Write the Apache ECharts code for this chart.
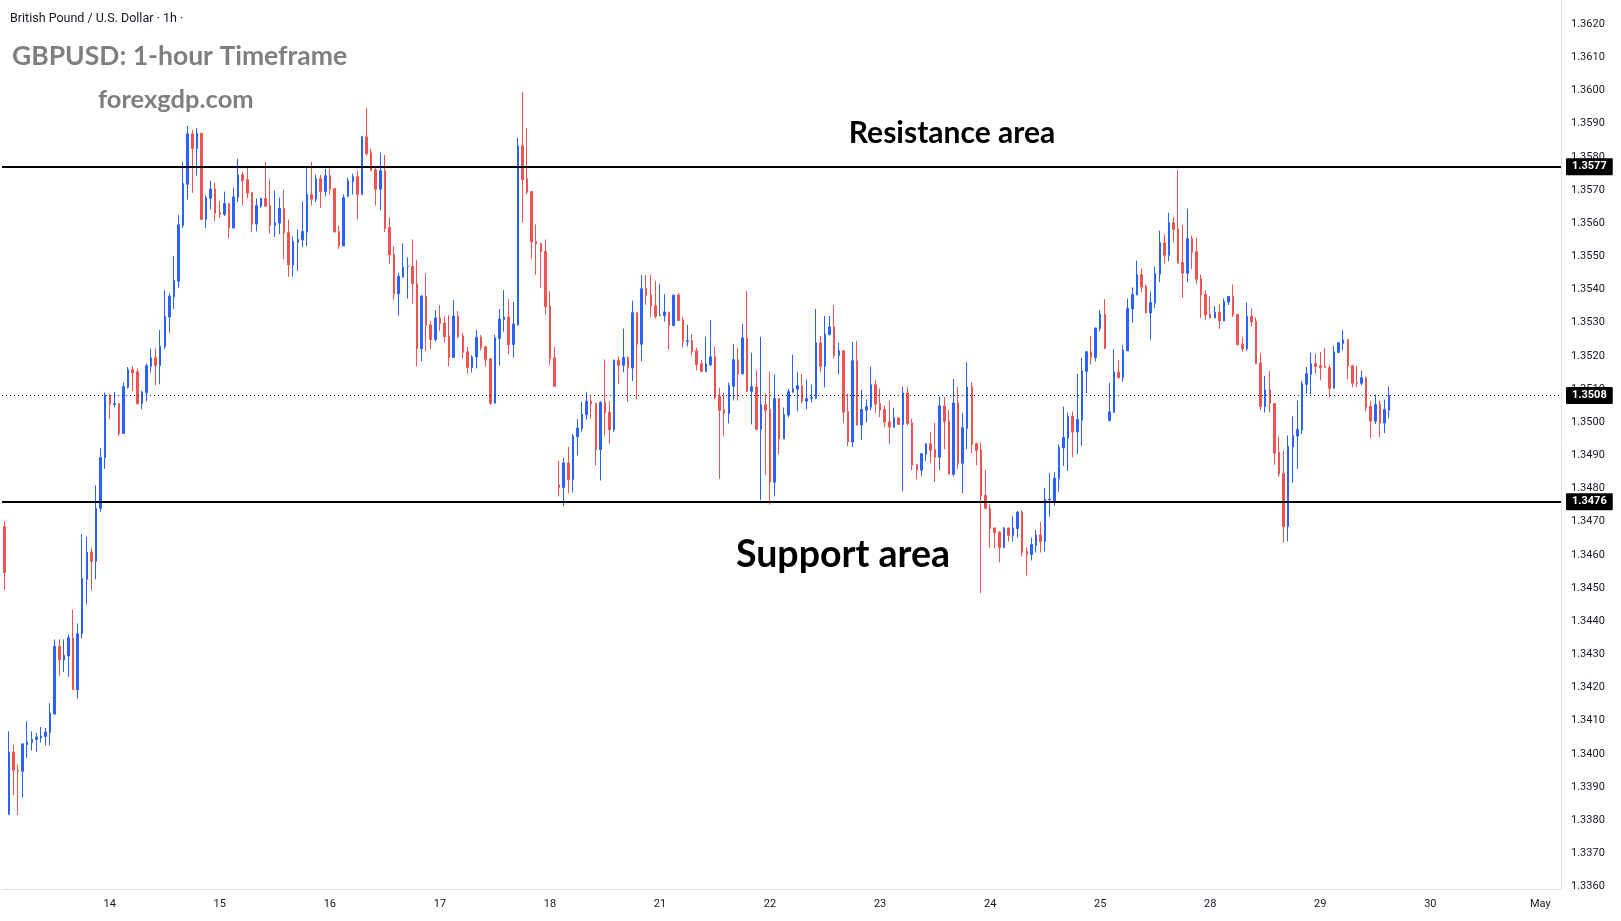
<!DOCTYPE html>
<html>
<head>
<meta charset="utf-8">
<script src="https://cdn.jsdelivr.net/npm/echarts@6/dist/echarts.min.js"></script>
<style>html,body{margin:0;padding:0;background:#fff;}#c{width:1621px;height:921px;}</style>
</head>
<body>
<div id="c"></div>
<script>
// ---- data ----
const firstSessionDay = '13';
const dayLabels = ['14','15','16','17','18','21','22','23','24','25','28','29','30','May'];
const priceTicks = [1.3360,1.3370,1.3380,1.3390,1.3400,1.3410,1.3420,1.3430,1.3440,1.3450,1.3460,1.3470,1.3480,1.3490,1.3500,1.3510,1.3520,1.3530,1.3540,1.3550,1.3560,1.3570,1.3580,1.3590,1.3600,1.3610,1.3620];
const resistanceLevel = 1.3577;
const supportLevel = 1.3476;
const lastPrice = 1.3508;

const opens = [
1.34685,1.33818,1.34005,1.33950,1.33947,1.34028,1.34034,1.34043,1.34048,1.34052,
1.34064,1.34120,1.34324,1.34283,1.34295,1.34350,1.34193,1.34362,1.34526,1.34608,
1.34580,1.34740,1.34893,1.35081,1.35053,1.35056,1.34966,1.35105,1.35158,1.35152,
1.35056,1.35089,1.35168,1.35194,1.35170,1.35227,1.35317,1.35378,1.35425,1.35593,
1.35717,1.35869,1.35825,1.35871,1.35611,1.35675,1.35703,1.35632,1.35626,1.35659,
1.35585,1.35677,1.35746,1.35731,1.35692,1.35597,1.35651,1.35674,1.35653,1.35593,
1.35600,1.35644,1.35572,1.35474,1.35542,1.35549,1.35573,1.35686,1.35672,1.35734,
1.35695,1.35743,1.35704,1.35575,1.35531,1.35680,1.35725,1.35740,1.35686,1.35860,
1.35812,1.35761,1.35702,1.35758,1.35587,1.35506,1.35387,1.35438,1.35469,1.35470,
1.35418,1.35221,1.35380,1.35293,1.35249,1.35314,1.35299,1.35260,1.35195,1.35320,
1.35260,1.35212,1.35165,1.35196,1.35256,1.35227,1.35191,1.35057,1.35252,1.35309,
1.35317,1.35234,1.35293,1.35833,1.35734,1.35695,1.35545,1.35539,1.35515,1.35350,
1.35194,1.34811,1.34803,1.34877,1.34827,1.34956,1.34980,1.35022,1.35063,1.35057,
1.34917,1.35060,1.35030,1.34977,1.35186,1.35171,1.35195,1.35163,1.35330,1.35235,
1.35402,1.35384,1.35351,1.35321,1.35321,1.35332,1.35291,1.35383,1.35308,1.35243,
1.35245,1.35215,1.35176,1.35153,1.35173,1.35197,1.35077,1.35038,1.35026,1.35108,
1.35188,1.35146,1.35254,1.35092,1.35107,1.34978,1.35053,1.35038,1.34819,1.35071,
1.34949,1.35021,1.35090,1.35099,1.35110,1.35063,1.35072,1.35072,1.35239,1.35168,
1.35264,1.35287,1.35201,1.35215,1.35032,1.34940,1.35185,1.34991,1.35036,1.35045,
1.35113,1.35056,1.35038,1.35001,1.34984,1.35013,1.34993,1.35088,1.34998,1.34872,
1.34855,1.34903,1.34935,1.34917,1.34894,1.35049,1.35004,1.34843,1.35058,1.34876,
1.34981,1.35106,1.34935,1.34917,1.34779,1.34740,1.34681,1.34669,1.34622,1.34681,
1.34658,1.34679,1.34729,1.34610,1.34601,1.34628,1.34660,1.34640,1.34766,1.34763,
1.34829,1.34922,1.34952,1.35017,1.34970,1.35006,1.35153,1.35212,1.35195,1.35282,
1.35326,1.35005,1.35029,1.35151,1.35134,1.35215,1.35341,1.35383,1.35445,1.35409,
1.35329,1.35359,1.35446,1.35541,1.35503,1.35601,1.35583,1.35481,1.35449,1.35553,
1.35514,1.35433,1.35385,1.35325,1.35314,1.35331,1.35305,1.35362,1.35379,1.35325,
1.35235,1.35221,1.35319,1.35304,1.35178,1.35047,1.35097,1.35056,1.34909,1.34846,
1.34685,1.34925,1.34958,1.34976,1.35114,1.35144,1.35176,1.35170,1.35167,1.35164,
1.35102,1.35210,1.35237,1.35248,1.35170,1.35119,1.35117,1.35134,1.35047,1.35003,
1.35053,1.34997,1.35036];

const highs = [
1.34702,1.34068,1.34027,1.33967,1.34030,1.34098,1.34068,1.34063,1.34081,1.34078,
1.34153,1.34345,1.34345,1.34345,1.34360,1.34435,1.34393,1.34663,1.34654,1.34622,
1.34810,1.34921,1.35089,1.35085,1.35091,1.35056,1.35119,1.35166,1.35170,1.35161,
1.35095,1.35176,1.35221,1.35221,1.35278,1.35398,1.35389,1.35501,1.35625,1.35785,
1.35893,1.35881,1.35887,1.35871,1.35683,1.35728,1.35722,1.35668,1.35695,1.35659,
1.35707,1.35794,1.35753,1.35773,1.35692,1.35674,1.35677,1.35785,1.35733,1.35698,
1.35677,1.35701,1.35611,1.35560,1.35581,1.35665,1.35770,1.35785,1.35746,1.35746,
1.35764,1.35764,1.35704,1.35593,1.35686,1.35737,1.35749,1.35758,1.35863,1.35947,
1.35824,1.35767,1.35812,1.35806,1.35617,1.35530,1.35450,1.35539,1.35497,1.35551,
1.35488,1.35383,1.35449,1.35305,1.35338,1.35353,1.35320,1.35323,1.35368,1.35335,
1.35269,1.35227,1.35202,1.35278,1.35263,1.35230,1.35191,1.35263,1.35341,1.35398,
1.35371,1.35362,1.35857,1.35995,1.35887,1.35695,1.35596,1.35539,1.35551,1.35395,
1.35227,1.34883,1.34892,1.34925,1.34964,1.35009,1.35061,1.35090,1.35078,1.35057,
1.35063,1.35189,1.35063,1.35189,1.35198,1.35282,1.35198,1.35366,1.35330,1.35444,
1.35444,1.35444,1.35426,1.35417,1.35386,1.35332,1.35383,1.35389,1.35317,1.35293,
1.35266,1.35224,1.35188,1.35257,1.35308,1.35228,1.35104,1.35089,1.35119,1.35236,
1.35224,1.35296,1.35395,1.35209,1.35155,1.35257,1.35086,1.35152,1.35143,1.35071,
1.35044,1.35101,1.35203,1.35152,1.35146,1.35128,1.35113,1.35341,1.35260,1.35320,
1.35320,1.35353,1.35239,1.35218,1.35086,1.35242,1.35245,1.35098,1.35068,1.35167,
1.35128,1.35101,1.35050,1.35065,1.35043,1.35013,1.35106,1.35106,1.35010,1.34872,
1.34905,1.34935,1.34971,1.34998,1.35076,1.35076,1.35037,1.35130,1.35106,1.35028,
1.35181,1.35121,1.34938,1.34938,1.34857,1.34752,1.34681,1.34669,1.34684,1.34681,
1.34717,1.34732,1.34735,1.34622,1.34652,1.34675,1.34699,1.34801,1.34846,1.34849,
1.34933,1.35047,1.35029,1.35032,1.35146,1.35194,1.35215,1.35260,1.35284,1.35338,
1.35371,1.35118,1.35220,1.35187,1.35232,1.35373,1.35406,1.35487,1.35463,1.35415,
1.35394,1.35469,1.35577,1.35565,1.35631,1.35619,1.35760,1.35595,1.35643,1.35562,
1.35556,1.35445,1.35397,1.35379,1.35349,1.35355,1.35373,1.35379,1.35415,1.35325,
1.35256,1.35361,1.35343,1.35316,1.35208,1.35139,1.35154,1.35056,1.34957,1.34915,
1.34960,1.35017,1.35065,1.35125,1.35167,1.35209,1.35206,1.35212,1.35224,1.35173,
1.35230,1.35242,1.35278,1.35251,1.35170,1.35170,1.35155,1.35137,1.35065,1.35083,
1.35065,1.35068,1.35107];

const lows = [
1.34494,1.33815,1.33875,1.33815,1.33868,1.33988,1.34010,1.34007,1.34034,1.34025,
1.34025,1.34118,1.34235,1.34247,1.34232,1.34193,1.34166,1.34348,1.34451,1.34493,
1.34526,1.34730,1.34859,1.35009,1.35045,1.34958,1.34966,1.35101,1.35093,1.35052,
1.35039,1.35063,1.35149,1.35111,1.35114,1.35219,1.35270,1.35341,1.35405,1.35585,
1.35671,1.35691,1.35743,1.35611,1.35585,1.35641,1.35605,1.35615,1.35621,1.35555,
1.35585,1.35663,1.35653,1.35674,1.35573,1.35575,1.35645,1.35649,1.35569,1.35558,
1.35567,1.35491,1.35438,1.35438,1.35456,1.35528,1.35531,1.35653,1.35663,1.35645,
1.35681,1.35686,1.35573,1.35522,1.35531,1.35680,1.35686,1.35611,1.35686,1.35803,
1.35758,1.35653,1.35638,1.35573,1.35477,1.35369,1.35321,1.35435,1.35372,1.35357,
1.35168,1.35183,1.35213,1.35219,1.35243,1.35275,1.35240,1.35168,1.35195,1.35252,
1.35192,1.35147,1.35150,1.35162,1.35216,1.35168,1.35051,1.35057,1.35171,1.35273,
1.35204,1.35195,1.35291,1.35603,1.35687,1.35492,1.35444,1.35405,1.35324,1.35171,
1.35108,1.34776,1.34746,1.34785,1.34788,1.34899,1.34971,1.35007,1.35010,1.34869,
1.34824,1.34958,1.34935,1.34971,1.35115,1.35150,1.35061,1.35124,1.35070,1.35183,
1.35354,1.35316,1.35312,1.35321,1.35303,1.35219,1.35291,1.35306,1.35225,1.35228,
1.35201,1.35156,1.35150,1.35150,1.35168,1.35068,1.34829,1.34957,1.34996,1.35065,
1.35065,1.35143,1.35092,1.34993,1.34975,1.34765,1.34840,1.34751,1.34776,1.34903,
1.34949,1.35015,1.35090,1.35033,1.35057,1.35039,1.35059,1.35069,1.35150,1.35105,
1.35261,1.35192,1.35144,1.34997,1.34928,1.34925,1.34991,1.34946,1.35000,1.35036,
1.35027,1.35015,1.34985,1.34933,1.34984,1.34993,1.34792,1.34990,1.34855,1.34828,
1.34837,1.34882,1.34876,1.34819,1.34855,1.34918,1.34843,1.34837,1.34858,1.34786,
1.34918,1.34906,1.34870,1.34484,1.34738,1.34621,1.34619,1.34577,1.34622,1.34640,
1.34640,1.34652,1.34595,1.34538,1.34583,1.34607,1.34607,1.34610,1.34715,1.34748,
1.34790,1.34868,1.34853,1.34895,1.34904,1.34928,1.35087,1.35174,1.35183,1.35273,
1.35222,1.35002,1.35029,1.35134,1.35122,1.35215,1.35299,1.35383,1.35392,1.35329,
1.35248,1.35344,1.35422,1.35479,1.35485,1.35542,1.35479,1.35374,1.35422,1.35461,
1.35416,1.35314,1.35308,1.35314,1.35314,1.35281,1.35305,1.35353,1.35317,1.35233,
1.35212,1.35215,1.35287,1.35176,1.35035,1.35029,1.35029,1.34871,1.34835,1.34637,
1.34640,1.34817,1.34859,1.34964,1.35086,1.35083,1.35146,1.35126,1.35165,1.35075,
1.35102,1.35210,1.35216,1.35129,1.35105,1.35105,1.35111,1.35033,1.34952,1.34994,
1.34955,1.34967,1.35012];

const closes = [
1.34546,1.34005,1.33950,1.33947,1.34030,1.34036,1.34044,1.34051,1.34054,1.34066,
1.34123,1.34324,1.34283,1.34297,1.34350,1.34193,1.34362,1.34528,1.34608,1.34580,
1.34740,1.34893,1.35081,1.35054,1.35056,1.34966,1.35107,1.35158,1.35149,1.35056,
1.35091,1.35170,1.35194,1.35170,1.35229,1.35319,1.35380,1.35427,1.35595,1.35719,
1.35869,1.35825,1.35871,1.35611,1.35677,1.35703,1.35630,1.35626,1.35659,1.35585,
1.35679,1.35746,1.35728,1.35690,1.35597,1.35653,1.35674,1.35651,1.35593,1.35602,
1.35644,1.35570,1.35474,1.35544,1.35551,1.35575,1.35686,1.35672,1.35734,1.35695,
1.35743,1.35702,1.35573,1.35531,1.35677,1.35728,1.35740,1.35686,1.35860,1.35809,
1.35758,1.35702,1.35758,1.35584,1.35504,1.35387,1.35440,1.35467,1.35470,1.35417,
1.35221,1.35380,1.35291,1.35249,1.35314,1.35297,1.35258,1.35195,1.35320,1.35258,
1.35210,1.35165,1.35196,1.35256,1.35225,1.35189,1.35057,1.35254,1.35311,1.35317,
1.35234,1.35296,1.35833,1.35731,1.35693,1.35543,1.35537,1.35513,1.35348,1.35192,
1.35108,1.34803,1.34877,1.34827,1.34958,1.34982,1.35024,1.35063,1.35055,1.34917,
1.35060,1.35028,1.34977,1.35186,1.35171,1.35195,1.35163,1.35330,1.35235,1.35402,
1.35382,1.35349,1.35319,1.35323,1.35332,1.35291,1.35383,1.35306,1.35243,1.35245,
1.35213,1.35173,1.35153,1.35176,1.35197,1.35074,1.35035,1.35026,1.35110,1.35188,
1.35146,1.35254,1.35092,1.35107,1.34978,1.35053,1.35035,1.34819,1.35071,1.34949,
1.35023,1.35092,1.35101,1.35110,1.35063,1.35071,1.35074,1.35239,1.35168,1.35266,
1.35287,1.35201,1.35215,1.35030,1.34940,1.35185,1.34991,1.35038,1.35047,1.35113,
1.35054,1.35036,1.35000,1.34985,1.35013,1.34993,1.35088,1.34996,1.34870,1.34855,
1.34905,1.34935,1.34915,1.34894,1.35049,1.35002,1.34843,1.35058,1.34876,1.34983,
1.35106,1.34933,1.34915,1.34777,1.34740,1.34679,1.34667,1.34622,1.34681,1.34658,
1.34681,1.34729,1.34607,1.34601,1.34631,1.34660,1.34640,1.34768,1.34768,1.34831,
1.34924,1.34954,1.35017,1.34970,1.35008,1.35155,1.35212,1.35195,1.35284,1.35326,
1.35222,1.35031,1.35151,1.35134,1.35217,1.35343,1.35385,1.35445,1.35407,1.35329,
1.35361,1.35448,1.35541,1.35503,1.35601,1.35581,1.35479,1.35449,1.35553,1.35512,
1.35431,1.35383,1.35323,1.35314,1.35331,1.35305,1.35364,1.35379,1.35323,1.35233,
1.35221,1.35319,1.35302,1.35176,1.35047,1.35097,1.35056,1.34907,1.34844,1.34685,
1.34927,1.34960,1.34978,1.35116,1.35146,1.35176,1.35168,1.35165,1.35165,1.35102,
1.35212,1.35239,1.35248,1.35168,1.35117,1.35117,1.35134,1.35045,1.35003,1.35053,
1.34997,1.35038,1.35080];

// ---- category (hourly) axis built from the day labels ----
const hh = h => (h < 10 ? '0' : '') + h + ':00';
const categories = [];
for (let h = 1; h < 24; h++) categories.push(firstSessionDay + ' ' + hh(h));
for (const d of dayLabels) for (let h = 0; h < 24; h++) categories.push(d + ' ' + hh(h));
const slotCount = 340;
categories.length = slotCount;

const candleData = opens.map((o, i) => [o, closes[i], lows[i], highs[i]]);

const UP = '#2962ff', DOWN = '#ef5350';
const labelBox = {
  show: true, position: 'end', distance: 5,
  formatter: p => Number(p.value).toFixed(4),
  backgroundColor: '#000', color: '#fff', padding: [3, 6, 3, 6],
  fontSize: 11, fontWeight: 'bold', fontFamily: 'Roboto, sans-serif', borderRadius: 1
};

const chart = echarts.init(document.getElementById('c'), null, {renderer: 'canvas'});
chart.setOption({
  animation: false,
  backgroundColor: '#ffffff',
  grid: {left: 2, right: 60, top: 0, bottom: 32, containLabel: false},
  xAxis: {
    type: 'category', data: categories, boundaryGap: true,
    axisLine: {show: true, lineStyle: {color: '#e0e3eb', width: 1}},
    axisTick: {show: false},
    splitLine: {show: false},
    axisLabel: {
      interval: (idx, val) => typeof val === 'string' && val.endsWith(' 00:00'),
      formatter: val => val.split(' ')[0],
      color: '#131722', fontSize: 11, margin: 10, fontFamily: 'Roboto, sans-serif'
    }
  },
  yAxis: {
    type: 'value', position: 'right', scale: true,
    min: 1.362726 - 889 / 33170, max: 1.362726,
    axisLine: {show: true, lineStyle: {color: '#e0e3eb', width: 1}},
    axisTick: {show: false},
    splitLine: {show: false},
    axisLabel: {
      customValues: priceTicks,
      formatter: v => v.toFixed(4),
      color: '#131722', fontSize: 11, margin: 10, fontFamily: 'Roboto, sans-serif'
    }
  },
  series: [{
    type: 'candlestick',
    data: candleData,
    barWidth: 2,
    itemStyle: {color: UP, color0: DOWN, borderColor: UP, borderColor0: DOWN, borderWidth: 1},
    markLine: {
      silent: true, symbol: ['none', 'none'], animation: false, precision: 5,
      data: [
        {yAxis: resistanceLevel, lineStyle: {color: '#000', width: 2, type: 'solid'}, label: labelBox},
        {yAxis: supportLevel, lineStyle: {color: '#000', width: 2, type: 'solid'}, label: labelBox},
        {yAxis: lastPrice, lineStyle: {color: '#131722', width: 1, type: [1, 3]}, label: labelBox}
      ]
    }
  }],
  graphic: [
    {type: 'text', x: 10, y: 19, style: {text: 'British Pound / U.S. Dollar · 1h ·', fill: '#131722', fontSize: 12.5, fontFamily: 'Roboto, sans-serif', textVerticalAlign: 'middle'}},
    {type: 'text', x: 12, y: 56, style: {text: 'GBPUSD: 1-hour Timeframe', fill: '#7f7f7f', fontSize: 26.5, fontWeight: 'bold', fontFamily: 'Lato, sans-serif', textVerticalAlign: 'middle'}},
    {type: 'text', x: 98, y: 100, style: {text: 'forexgdp.com', fill: '#7f7f7f', fontSize: 25.5, fontWeight: 'bold', fontFamily: 'Lato, sans-serif', textVerticalAlign: 'middle'}},
    {type: 'text', x: 952, y: 133, style: {text: 'Resistance area', fill: '#000', fontSize: 30, fontWeight: 'bold', fontFamily: 'Lato, sans-serif', textAlign: 'center', textVerticalAlign: 'middle'}},
    {type: 'text', x: 843, y: 555, style: {text: 'Support area', fill: '#000', fontSize: 37.5, fontWeight: 'bold', fontFamily: 'Lato, sans-serif', textAlign: 'center', textVerticalAlign: 'middle'}}
  ]
});
</script>
</body>
</html>
